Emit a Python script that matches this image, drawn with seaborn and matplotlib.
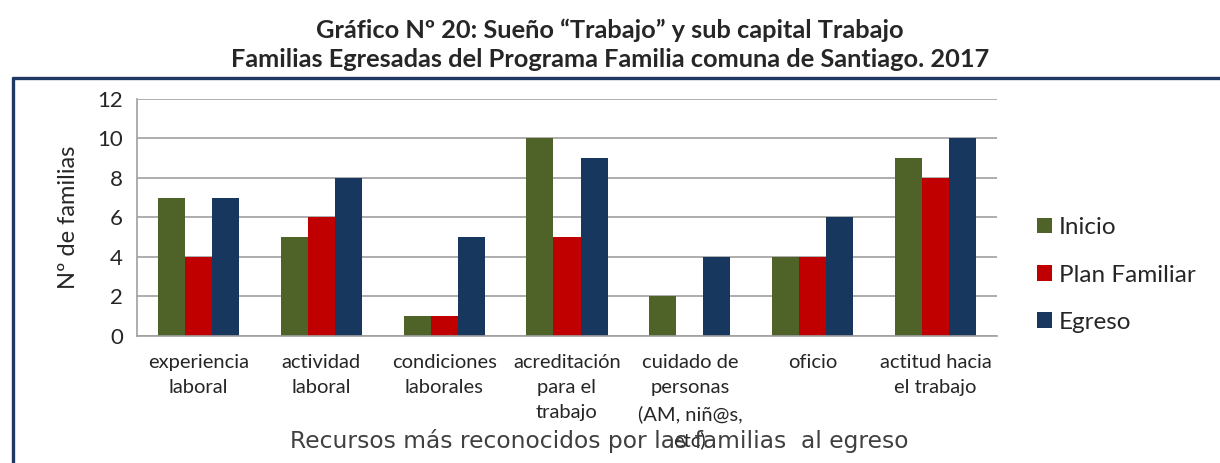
import pandas as pd
import matplotlib
import matplotlib.pyplot as plt
import seaborn as sns
from matplotlib.lines import Line2D

matplotlib.use('Agg')

# datos del gráfico
categorias = ["experiencia\nlaboral", "actividad\nlaboral", "condiciones\nlaborales",
              "acreditación\npara el\ntrabajo", "cuidado de\npersonas\n(AM, niñ@s,\netc)",
              "oficio", "actitud hacia\nel trabajo"]
series = ["Inicio", "Plan Familiar", "Egreso"]
inicio = [7, 5, 1, 10, 2, 4, 9]
plan_familiar = [4, 6, 1, 5, 0, 4, 8]
egreso = [7, 8, 5, 9, 4, 6, 10]
colores = ["#4f6228", "#c00000", "#17375e"]

df = pd.DataFrame({
    "categoria": categorias * 3,
    "serie": [series[0]] * 7 + [series[1]] * 7 + [series[2]] * 7,
    "valor": inicio + plan_familiar + egreso,
})

sns.set_style("white")
plt.rcParams['font.family'] = ['Lato', 'DejaVu Sans']

fig = plt.figure(figsize=(12.2, 4.63), dpi=100)
ax = fig.add_axes([0.1123, 0.2743, 0.7049, 0.5119])

sns.barplot(data=df, x="categoria", y="valor", hue="serie", palette=colores,
            width=0.66, gap=0, linewidth=0, saturation=1, ax=ax, errorbar=None)

ax.set_ylim(0, 12)
ax.set_xlim(-0.5, 6.5)
ax.set_yticks(range(0, 13, 2))
ax.yaxis.grid(True, color="#a0a0a0", linewidth=1.2)
ax.set_axisbelow(True)
for s in ["top", "right"]:
    ax.spines[s].set_visible(False)
for s in ["left", "bottom"]:
    ax.spines[s].set_color("#a0a0a0")
    ax.spines[s].set_linewidth(1.2)
ax.tick_params(axis="y", length=6, color="#a0a0a0", width=1.2, labelsize=16, pad=4)
ax.tick_params(axis="x", length=0, labelsize=14.5, pad=13)
for t in ax.get_xticklabels():
    t.set_linespacing(1.58)
    t.set_verticalalignment("top")

ax.set_ylabel("Nº de familias", fontsize=17, labelpad=13)
ax.set_xlabel("Recursos más reconocidos por las familias  al egreso",
              fontsize=16.8, color="#404040", family="DejaVu Sans")
ax.xaxis.set_label_coords(0.537, -0.443)
ax.xaxis.label.set_verticalalignment("center")

ax.legend(title=None, frameon=False, loc="center left", bbox_to_anchor=(0.850, 0.406),
          bbox_transform=fig.transFigure, fontsize=17.5, handlelength=0.6, handleheight=0.6,
          handletextpad=0.3, labelspacing=1.08, borderpad=0, borderaxespad=0)

fig.suptitle("Gráfico Nº 20: Sueño “Trabajo” y sub capital Trabajo\n"
             "Familias Egresadas del Programa Familia comuna de Santiago. 2017",
             fontsize=18.3, fontweight="bold", y=0.959, linespacing=1.3)

# marco del gráfico
fig.add_artist(Line2D([0.0107, 0.0107], [0, 0.832], transform=fig.transFigure,
                      color="#1f3864", linewidth=2.4))
fig.add_artist(Line2D([0.0107, 1.0], [0.832, 0.832], transform=fig.transFigure,
                      color="#1f3864", linewidth=2.4))

fig.savefig("out.png", dpi=100)
